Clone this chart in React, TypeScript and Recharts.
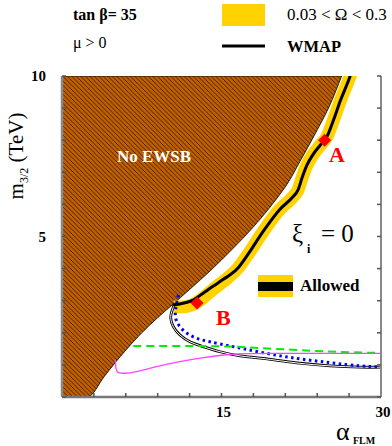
import { Area, ComposedChart, Line, Scatter, XAxis, YAxis } from 'recharts'

const FONT = '"Liberation Serif", "Times New Roman", serif'

const xTicks = [0, 3, 6, 9, 12, 15, 18, 21, 24, 27, 30]
const xLabels = [15, 30]
const yTicks = [0, 1, 2, 3, 4, 5, 6, 7, 8, 9, 10]
const yLabels = [5, 10]

// region without EWSB, [lower edge, top]
const noEwsb = [
  { x: 0, r: [0, 10] },
  { x: 2.4, r: [0, 10] },
  { x: 4, r: [0.65, 10] },
  { x: 5, r: [1.07, 10] },
  { x: 6, r: [1.46, 10] },
  { x: 7.5, r: [2.0, 10] },
  { x: 9, r: [2.47, 10] },
  { x: 10.4, r: [2.88, 10] },
  { x: 12, r: [3.35, 10] },
  { x: 14, r: [3.95, 10] },
  { x: 16, r: [4.6, 10] },
  { x: 18, r: [5.3, 10] },
  { x: 20, r: [6.1, 10] },
  { x: 21.3, r: [6.7, 10] },
  { x: 22.4, r: [7.35, 10] },
  { x: 24, r: [8.32, 10] },
  { x: 25.2, r: [9.1, 10] },
  { x: 26.3, r: [10, 10] },
]

// 0.03 < Omega < 0.3 band
const relicBand = [
  { x: 10.5, y: 2.8 },
  { x: 11.1, y: 2.8 },
  { x: 12.2, y: 2.86 },
  { x: 13.3, y: 3.1 },
  { x: 14.2, y: 3.35 },
  { x: 15.1, y: 3.58 },
  { x: 16.5, y: 4.0 },
  { x: 17.5, y: 4.45 },
  { x: 18.9, y: 5.15 },
  { x: 20.5, y: 5.85 },
  { x: 21.7, y: 6.23 },
  { x: 22.2, y: 6.45 },
  { x: 22.6, y: 6.85 },
  { x: 23.0, y: 7.2 },
  { x: 23.6, y: 7.55 },
  { x: 24.3, y: 7.85 },
  { x: 24.9, y: 8.1 },
  { x: 25.5, y: 8.6 },
  { x: 26.2, y: 9.25 },
  { x: 27.1, y: 10 },
  { x: 27.4, y: 10.3 },
]

const wmap = [
  { x: 10.4, y: 2.87 },
  { x: 11.1, y: 2.9 },
  { x: 12.2, y: 3.0 },
  { x: 13.3, y: 3.24 },
  { x: 14.2, y: 3.45 },
  { x: 15.1, y: 3.65 },
  { x: 16.5, y: 4.0 },
  { x: 17.5, y: 4.45 },
  { x: 18.9, y: 5.15 },
  { x: 20.5, y: 5.85 },
  { x: 21.7, y: 6.23 },
  { x: 22.2, y: 6.45 },
  { x: 22.6, y: 6.85 },
  { x: 23.0, y: 7.2 },
  { x: 23.6, y: 7.55 },
  { x: 24.3, y: 7.85 },
  { x: 24.9, y: 8.1 },
  { x: 25.5, y: 8.6 },
  { x: 26.2, y: 9.25 },
  { x: 27.1, y: 10 },
  { x: 27.4, y: 10.3 },
]

const blackContour = [
  { x: 10.63, y: 2.93 },
  { x: 10.32, y: 2.66 },
  { x: 10.23, y: 2.45 },
  { x: 10.47, y: 2.19 },
  { x: 11.1, y: 1.93 },
  { x: 12.04, y: 1.72 },
  { x: 13.26, y: 1.57 },
  { x: 14.86, y: 1.41 },
  { x: 16.75, y: 1.28 },
  { x: 18.9, y: 1.2 },
  { x: 22.1, y: 1.06 },
  { x: 25.2, y: 0.97 },
  { x: 28, y: 0.93 },
  { x: 30, y: 0.93 },
]

const blueContour = [
  { x: 10.95, y: 3.18 },
  { x: 10.68, y: 2.72 },
  { x: 10.79, y: 2.35 },
  { x: 11.57, y: 2.03 },
  { x: 12.67, y: 1.83 },
  { x: 13.92, y: 1.72 },
  { x: 15.8, y: 1.59 },
  { x: 18.9, y: 1.38 },
  { x: 22.1, y: 1.2 },
  { x: 25.2, y: 1.07 },
  { x: 28, y: 0.97 },
  { x: 30, y: 0.94 },
]

const greenContour = [
  { x: 6.7, y: 1.59 },
  { x: 12, y: 1.59 },
  { x: 16, y: 1.57 },
  { x: 20, y: 1.5 },
  { x: 25, y: 1.42 },
  { x: 30, y: 1.37 },
]

const magentaContour = [
  { x: 5.0, y: 1.15 },
  { x: 5.08, y: 0.89 },
  { x: 5.3, y: 0.76 },
  { x: 5.93, y: 0.74 },
  { x: 7.0, y: 0.79 },
  { x: 9.2, y: 0.97 },
  { x: 11.1, y: 1.1 },
  { x: 13, y: 1.21 },
  { x: 15, y: 1.3 },
  { x: 17, y: 1.35 },
  { x: 20, y: 1.36 },
  { x: 30, y: 1.36 },
]

const benchmarks = [
  { x: 24.7, y: 8.0, name: 'A' },
  { x: 12.7, y: 2.93, name: 'B' },
]

function Diamond(props: any) {
  const { cx, cy } = props
  const s = 6.5
  return <polygon points={`${cx},${cy - s} ${cx + s},${cy} ${cx},${cy + s} ${cx - s},${cy}`} fill="#ff0000" />
}

function XTick(props: any) {
  const { x, y, payload } = props
  if (!xLabels.includes(payload.value)) return <g />
  return (
    <text x={x + 2} y={y + 20} textAnchor="middle" fontFamily={FONT} fontWeight="bold" fontSize={15} fill="#000">
      {payload.value}
    </text>
  )
}

function YTick(props: any) {
  const { x, y, payload } = props
  if (!yLabels.includes(payload.value)) return <g />
  return (
    <text x={x - 16} y={y + 5} textAnchor="end" fontFamily={FONT} fontWeight="bold" fontSize={15} fill="#000">
      {payload.value}
    </text>
  )
}

const noTick = () => <g />

export default function App() {
  return (
    <div style={{ position: 'absolute', left: 0, top: 0, width: 392, height: 446, background: '#fff' }}>
      <ComposedChart width={392} height={446} margin={{ top: 76, right: 0, bottom: 0, left: 0 }}>
        <defs>
          <pattern id="hatch" patternUnits="userSpaceOnUse" width={4.5} height={4.5}>
            <rect width={4.5} height={4.5} fill="#c06000" />
            <path d="M0,0 L4.5,4.5 M-1,3.5 L1,5.5 M3.5,-1 L5.5,1" stroke="#3a1800" strokeWidth={0.9} />
          </pattern>
        </defs>
        <XAxis
          type="number"
          dataKey="x"
          domain={[0, 30]}
          ticks={xTicks}
          allowDataOverflow
          height={49}
          tickSize={-4}
          tickMargin={4}
          tick={<XTick />}
          axisLine={{ stroke: '#777', strokeWidth: 2.5 }}
          tickLine={{ stroke: '#555', strokeWidth: 1.5 }}
        />
        <YAxis
          type="number"
          domain={[0, 10]}
          ticks={yTicks}
          allowDataOverflow
          width={62}
          tickSize={-4}
          tickMargin={4}
          tick={<YTick />}
          axisLine={{ stroke: '#888', strokeWidth: 2.5 }}
          tickLine={{ stroke: '#555', strokeWidth: 1.5 }}
        />
        <YAxis
          yAxisId="r"
          orientation="right"
          type="number"
          domain={[0, 10]}
          ticks={yTicks}
          allowDataOverflow
          width={11}
          tickSize={-4}
          tick={noTick}
          axisLine={{ stroke: '#888', strokeWidth: 2 }}
          tickLine={{ stroke: '#555', strokeWidth: 1.5 }}
        />
        <Area
          data={noEwsb}
          dataKey="r"
          type="monotone"
          fill="url(#hatch)"
          fillOpacity={1}
          stroke="#000"
          strokeWidth={0.8}
          dot={false}
          activeDot={false}
          isAnimationActive={false}
        />
        <Line data={relicBand} dataKey="y" type="monotone" stroke="#ffd200" strokeWidth={13} dot={false} activeDot={false} isAnimationActive={false} />
        <Line data={blackContour} dataKey="y" type="natural" stroke="#000" strokeWidth={2.8} dot={false} activeDot={false} isAnimationActive={false} />
        <Line data={blackContour} dataKey="y" type="natural" stroke="#fff" strokeWidth={1} dot={false} activeDot={false} isAnimationActive={false} />
        <Line data={blueContour} dataKey="y" type="natural" stroke="#0000ff" strokeWidth={3} strokeDasharray="2.5 3.5" dot={false} activeDot={false} isAnimationActive={false} />
        <Line data={greenContour} dataKey="y" type="monotone" stroke="#00ee00" strokeWidth={2} strokeDasharray="8 5" dot={false} activeDot={false} isAnimationActive={false} />
        <Line data={magentaContour} dataKey="y" type="natural" stroke="#ff44ff" strokeWidth={1.3} dot={false} activeDot={false} isAnimationActive={false} />
        <Line data={wmap} dataKey="y" type="monotone" stroke="#000" strokeWidth={3} dot={false} activeDot={false} isAnimationActive={false} />
        <Scatter data={benchmarks} dataKey="y" shape={<Diamond />} isAnimationActive={false} />
      </ComposedChart>
      <svg width={392} height={446} style={{ position: 'absolute', left: 0, top: 0, pointerEvents: 'none' }} fontFamily={FONT}>
        <text x={73} y={20} fontSize={16} fontWeight="bold">tan β= 35</text>
        <text x={73} y={48} fontSize={16}>μ &gt; 0</text>
        <rect x={222} y={4} width={43} height={22} fill="#ffd200" />
        <text x={287} y={20} fontSize={17}>0.03 &lt; Ω &lt; 0.3</text>
        <line x1={222} x2={265} y1={46} y2={46} stroke="#000" strokeWidth={3} />
        <text x={287} y={52} fontSize={16.5} fontWeight="bold">WMAP</text>

        <text x={117} y={162} fontSize={17} fontWeight="bold" fill="#fff">No EWSB</text>

        <text x={329} y={162} fontSize={22} fontWeight="bold" fill="#ff0000">A</text>
        <text x={216} y={325} fontSize={22} fontWeight="bold" fill="#ff0000">B</text>

        <text x={292} y={242} fontSize={25}>ξ</text>
        <text x={307} y={253} fontSize={12} fontWeight="bold">i</text>
        <text x={321} y={242} fontSize={25}>= 0</text>

        <rect x={258} y={275} width={35} height={22} fill="#ffd200" />
        <rect x={258} y={282} width={35} height={9} fill="#000" />
        <text x={300} y={291} fontSize={17} fontWeight="bold">Allowed</text>

        <text transform="translate(23,156) rotate(-90)" textAnchor="middle" fontSize={21}>
          m<tspan fontSize={12} dy={5}>3/2</tspan>
          <tspan dy={-5}> (TeV)</tspan>
        </text>

        <text x={336} y={440} fontSize={26}>α</text>
        <text x={353} y={444} fontSize={10} fontWeight="bold">FLM</text>
      </svg>
    </div>
  )
}
